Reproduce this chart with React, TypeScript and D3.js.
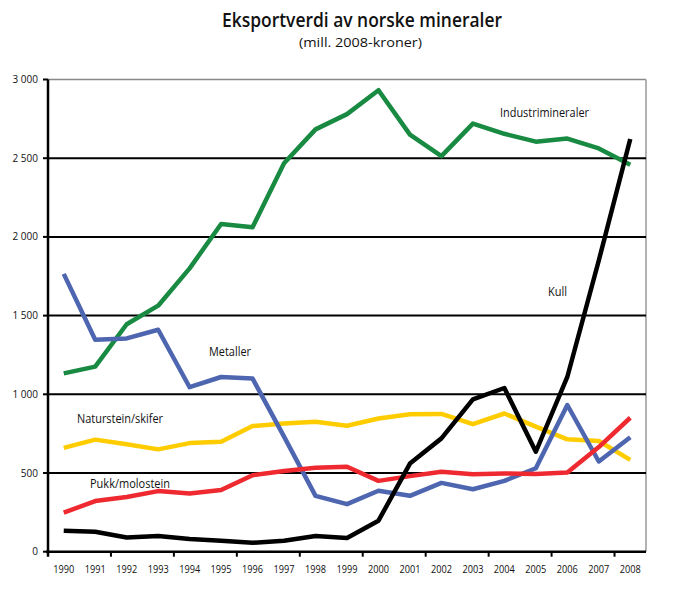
import React from "react";
import * as d3 from "d3";

const years = [1990,1991,1992,1993,1994,1995,1996,1997,1998,1999,2000,2001,2002,2003,2004,2005,2006,2007,2008];
const industrimineraler = [1133,1176,1445,1563,1800,2082,2062,2468,2683,2780,2932,2650,2513,2720,2655,2605,2625,2562,2458];
const metaller = [1765,1347,1355,1410,1045,1110,1100,731,355,302,387,355,437,397,450,530,932,573,727];
const naturstein = [660,712,683,650,690,698,798,815,825,800,846,873,875,810,878,795,714,703,583];
const pukk = [248,322,348,385,370,392,486,513,534,540,450,480,508,492,497,493,503,665,851];
const kull = [133,127,90,100,80,70,57,70,100,87,197,560,720,968,1040,635,1110,1850,2622];
const yTicks = [0,500,1000,1500,2000,2500,3000];
const xTickMarks = [1991.5,1993.5,1995.5,1997.5,1999.5,2001.5,2003.5,2005.5,2007.5];

const series = [
  { name: "Industrimineraler", values: industrimineraler, color: "#188a42", lx: 500, ly: 117, w: 89 },
  { name: "Naturstein/skifer", values: naturstein, color: "#ffcc00", lx: 77, ly: 423, w: 86 },
  { name: "Metaller", values: metaller, color: "#4e65b0", lx: 209, ly: 356, w: 42 },
  { name: "Pukk/molostein", values: pukk, color: "#ee2a30", lx: 90, ly: 488, w: 80 },
  { name: "Kull", values: kull, color: "#000000", lx: 548, ly: 296, w: 19 },
];

const fmt = (v: number) => (v >= 1000 ? `${Math.floor(v / 1000)} ${String(v % 1000).padStart(3, "0")}` : String(v));

export default function App() {
  const x = d3.scaleLinear().domain([1989.5, 2008.5]).range([48, 646]);
  const y = d3.scaleLinear().domain([0, 3000]).range([551.7, 79.5]);
  const font = "'Open Sans', 'Noto Sans', Arial, sans-serif";
  return (
    <svg width={677} height={595} style={{ position: "absolute", left: 0, top: 0, background: "#fff" }} fontFamily={font}>
      <text x={222} y={27} fontSize={20} fontWeight={600} fill="#111" textLength={280} lengthAdjust="spacingAndGlyphs">Eksportverdi av norske mineraler</text>
      <text x={299} y={47} fontSize={13.5} fill="#111" textLength={123} lengthAdjust="spacingAndGlyphs">(mill. 2008-kroner)</text>
      {/* frame */}
      <line x1={48} x2={646} y1={y(3000)} y2={y(3000)} stroke="#888" strokeWidth={1.5} />
      <line x1={646} x2={646} y1={y(3000)} y2={y(0)} stroke="#999" strokeWidth={1.5} />
      {yTicks.filter(t => t > 0 && t < 3000).map(t => (
        <line key={t} x1={48} x2={646} y1={y(t)} y2={y(t)} stroke="#000" strokeWidth={2} />
      ))}
      {yTicks.map(t => (
        <g key={"yt" + t}>
          <line x1={43} x2={48} y1={y(t)} y2={y(t)} stroke="#000" strokeWidth={2} />
          <text x={38} y={y(t) + 3.5} textAnchor="end" fontSize={10} fill="#111">{fmt(t)}</text>
        </g>
      ))}
      {xTickMarks.map(t => (
        <line key={"xt" + t} x1={x(t)} x2={x(t)} y1={y(0)} y2={y(0) + 5} stroke="#000" strokeWidth={2} />
      ))}
      {years.map(yr => (
        <text key={"xl" + yr} x={x(yr) - 10.5} y={573} fontSize={10.5} fill="#111" textLength={21} lengthAdjust="spacingAndGlyphs">{yr}</text>
      ))}
      {series.map(s => {
        const line = d3.line<number>().x((_, i) => x(years[i])).y(v => y(v));
        return (
          <path key={s.name} d={line(s.values) || ""} fill="none" stroke={s.color} strokeWidth={4.5} strokeLinejoin="round" />
        );
      })}
      <line x1={48} x2={48} y1={y(3000)} y2={y(0) + 5} stroke="#000" strokeWidth={2.5} />
      <line x1={46} x2={646} y1={y(0)} y2={y(0)} stroke="#000" strokeWidth={2.5} />
      {series.map(s => (
        <text key={"lb" + s.name} x={s.lx} y={s.ly} fontSize={12} fill="#111" textLength={s.w} lengthAdjust="spacingAndGlyphs">{s.name}</text>
      ))}
    </svg>
  );
}
